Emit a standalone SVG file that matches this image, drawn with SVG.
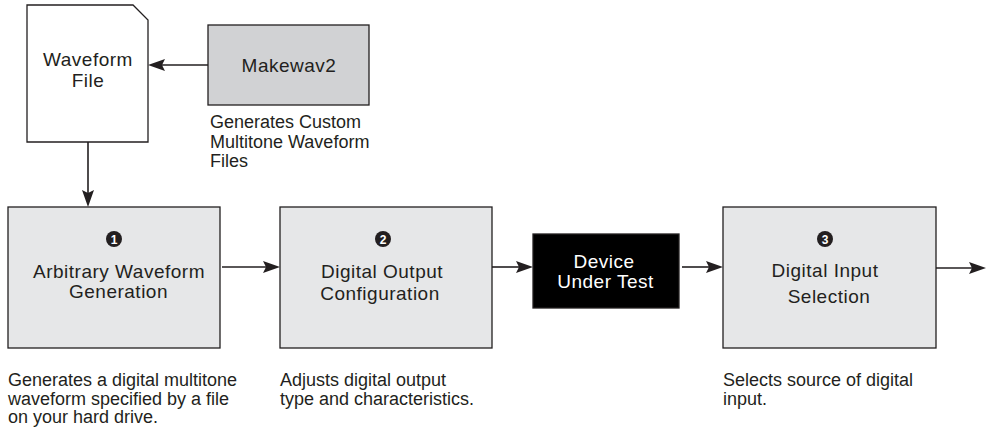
<svg xmlns="http://www.w3.org/2000/svg" width="988" height="429" viewBox="0 0 988 429">
<style>
.lbl{font-family:"Liberation Sans",Arial,sans-serif;font-size:19px;letter-spacing:0.5px;fill:#231f20;text-anchor:middle}
.cap{font-family:"Liberation Sans",Arial,sans-serif;font-size:18px;fill:#231f20}
.box{fill:#e6e7e8;stroke:#231f20;stroke-width:1.3}
.num{font-family:"Liberation Sans",Arial,sans-serif;font-size:12px;font-weight:bold;fill:#fff;text-anchor:middle}
.ln{stroke:#231f20;stroke-width:1.6;fill:none}
.hd{fill:#231f20}
</style>
<rect width="988" height="429" fill="#fff"/>
<g id="connectors">
  <line class="ln" x1="208" y1="65" x2="158" y2="65"/>
  <path class="hd" d="M148,65 L165,59 L162,65 L165,71 Z"/>
  <line class="ln" x1="88" y1="142" x2="88" y2="197"/>
  <path class="hd" d="M88,207 L82,190 L88,193 L94,190 Z"/>
  <line class="ln" x1="222" y1="267" x2="270" y2="267"/>
  <path class="hd" d="M280,267 L263,261 L266,267 L263,273 Z"/>
  <line class="ln" x1="492" y1="267" x2="523" y2="267"/>
  <path class="hd" d="M533,267 L516,261 L519,267 L516,273 Z"/>
  <line class="ln" x1="682" y1="267" x2="713" y2="267"/>
  <path class="hd" d="M723,267 L706,261 L709,267 L706,273 Z"/>
  <line class="ln" x1="936" y1="268" x2="976" y2="268"/>
  <path class="hd" d="M986,268 L969,262 L972,268 L969,274 Z"/>
</g>
<g id="waveform-file">
  <path d="M27,5 L133,5 L148,20 L148,142 L27,142 Z" fill="#fff" stroke="#231f20" stroke-width="1.3"/>
  <text class="lbl" x="88" y="66">Waveform</text>
  <text class="lbl" x="88" y="87">File</text>
</g>
<g id="makewav2">
  <rect x="208" y="25" width="161" height="80" fill="#d1d2d4" stroke="#231f20" stroke-width="1.3"/>
  <text class="lbl" x="289" y="72">Makewav2</text>
  <text class="cap" x="210" y="128">Generates Custom</text>
  <text class="cap" x="210" y="147.5">Multitone Waveform</text>
  <text class="cap" x="210" y="167">Files</text>
</g>
<g id="arbitrary-waveform-generation">
  <rect class="box" x="8" y="207" width="212" height="141"/>
  <circle cx="114" cy="239" r="8" fill="#231f20"/>
  <text class="num" x="114" y="243.5">1</text>
  <text class="lbl" x="119" y="278">Arbitrary Waveform</text>
  <text class="lbl" x="118.5" y="298">Generation</text>
  <text class="cap" x="8" y="386">Generates a digital multitone</text>
  <text class="cap" x="8" y="404.5">waveform specified by a file</text>
  <text class="cap" x="8" y="423">on your hard drive.</text>
</g>
<g id="digital-output-configuration">
  <rect class="box" x="280" y="207" width="212" height="141"/>
  <circle cx="383" cy="239" r="8" fill="#231f20"/>
  <text class="num" x="383" y="243.5">2</text>
  <text class="lbl" x="382" y="278">Digital Output</text>
  <text class="lbl" x="380" y="300">Configuration</text>
  <text class="cap" x="280" y="386">Adjusts digital output</text>
  <text class="cap" x="280" y="404.5">type and characteristics.</text>
</g>
<g id="device-under-test">
  <rect x="533" y="234" width="146" height="74" fill="#000" stroke="#231f20" stroke-width="1.3"/>
  <text class="lbl" x="604" y="268" style="fill:#fff">Device</text>
  <text class="lbl" x="605.5" y="288" style="fill:#fff">Under Test</text>
</g>
<g id="digital-input-selection">
  <rect class="box" x="723" y="207" width="213" height="141"/>
  <circle cx="825" cy="239" r="8" fill="#231f20"/>
  <text class="num" x="825" y="243.5">3</text>
  <text class="lbl" x="825" y="277">Digital Input</text>
  <text class="lbl" x="829" y="303">Selection</text>
  <text class="cap" x="723" y="386">Selects source of digital</text>
  <text class="cap" x="723" y="404.5">input.</text>
</g>
</svg>
